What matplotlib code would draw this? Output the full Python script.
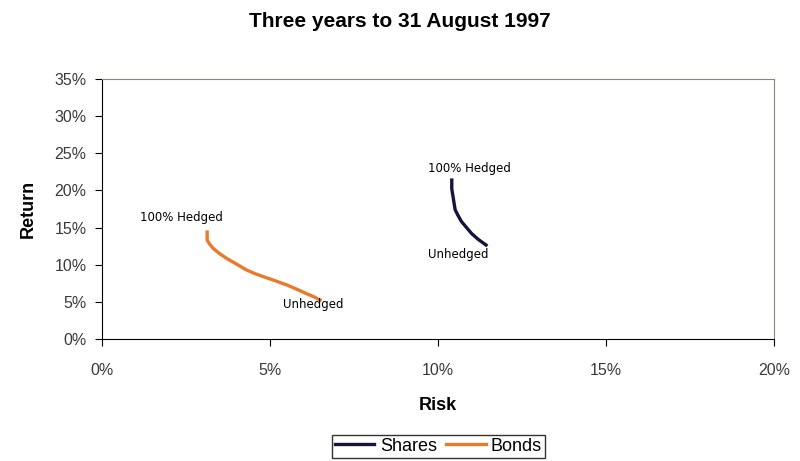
import matplotlib
matplotlib.use('Agg')
import matplotlib.pyplot as plt
from matplotlib.ticker import PercentFormatter

plt.rcParams['font.family'] = ['Liberation Sans', 'DejaVu Sans']

# risk / return in percent
shares_risk = [10.41, 10.41, 10.45, 10.51, 10.60, 10.70, 10.85, 11.00, 11.20, 11.43]
shares_return = [21.4, 20.2, 19.1, 17.4, 16.6, 15.8, 15.0, 14.2, 13.4, 12.65]
bonds_risk = [3.13, 3.13, 3.20, 3.31, 3.50, 3.71, 4.00, 4.30, 4.55, 4.80, 5.15, 5.49, 5.80, 6.09, 6.30, 6.49]
bonds_return = [14.4, 13.3, 12.8, 12.2, 11.5, 10.85, 10.1, 9.3, 8.8, 8.4, 7.85, 7.3, 6.7, 6.1, 5.7, 5.25]

x_ticks = [0, 5, 10, 15, 20]
y_ticks = [0, 5, 10, 15, 20, 25, 30, 35]

fig = plt.figure(figsize=(8, 4.61), dpi=100)
ax = fig.add_axes([0.1275, 0.2646, 0.84, 0.564])

ax.plot(shares_risk, shares_return, color='#14143c', linewidth=2.4, label='Shares')
ax.plot(bonds_risk, bonds_return, color='#e97a2c', linewidth=2.4, label='Bonds')

lab = dict(fontsize=8.5, ha='center', va='center', family='DejaVu Sans')
ax.text(10.95, 23.0, '100% Hedged', **lab)
ax.text(10.6, 11.4, 'Unhedged', **lab)
ax.text(2.35, 16.4, '100% Hedged', **lab)
ax.text(6.28, 4.6, 'Unhedged', **lab)

ax.set_xlim(0, 20)
ax.set_ylim(0, 35)
ax.set_xticks(x_ticks)
ax.set_yticks(y_ticks)
ax.xaxis.set_major_formatter(PercentFormatter(decimals=0))
ax.yaxis.set_major_formatter(PercentFormatter(decimals=0))
ax.tick_params(direction='out', length=5, labelsize=11.5, labelcolor='#3a3a3a', pad=6)
ax.tick_params(axis='x', pad=12)

for side in ['top', 'right']:
    ax.spines[side].set_color('#888877')
ax.spines['left'].set_color('black')
ax.spines['bottom'].set_color('black')

ax.set_xlabel('Risk', fontsize=13, fontweight='bold', labelpad=14)
ax.set_ylabel('Return', fontsize=13, fontweight='bold', labelpad=13)
fig.suptitle('Three years to 31 August 1997', fontsize=15, fontweight='bold', x=0.5, y=0.975)

leg = fig.legend(loc='lower center', bbox_to_anchor=(0.548, -0.012), ncol=2, frameon=True,
                 fancybox=False, edgecolor='black', fontsize=13, handlelength=2.2,
                 handletextpad=0.3, columnspacing=0.5, borderpad=0.15)
leg.get_frame().set_linewidth(1.0)

fig.savefig('out.png', dpi=100)
